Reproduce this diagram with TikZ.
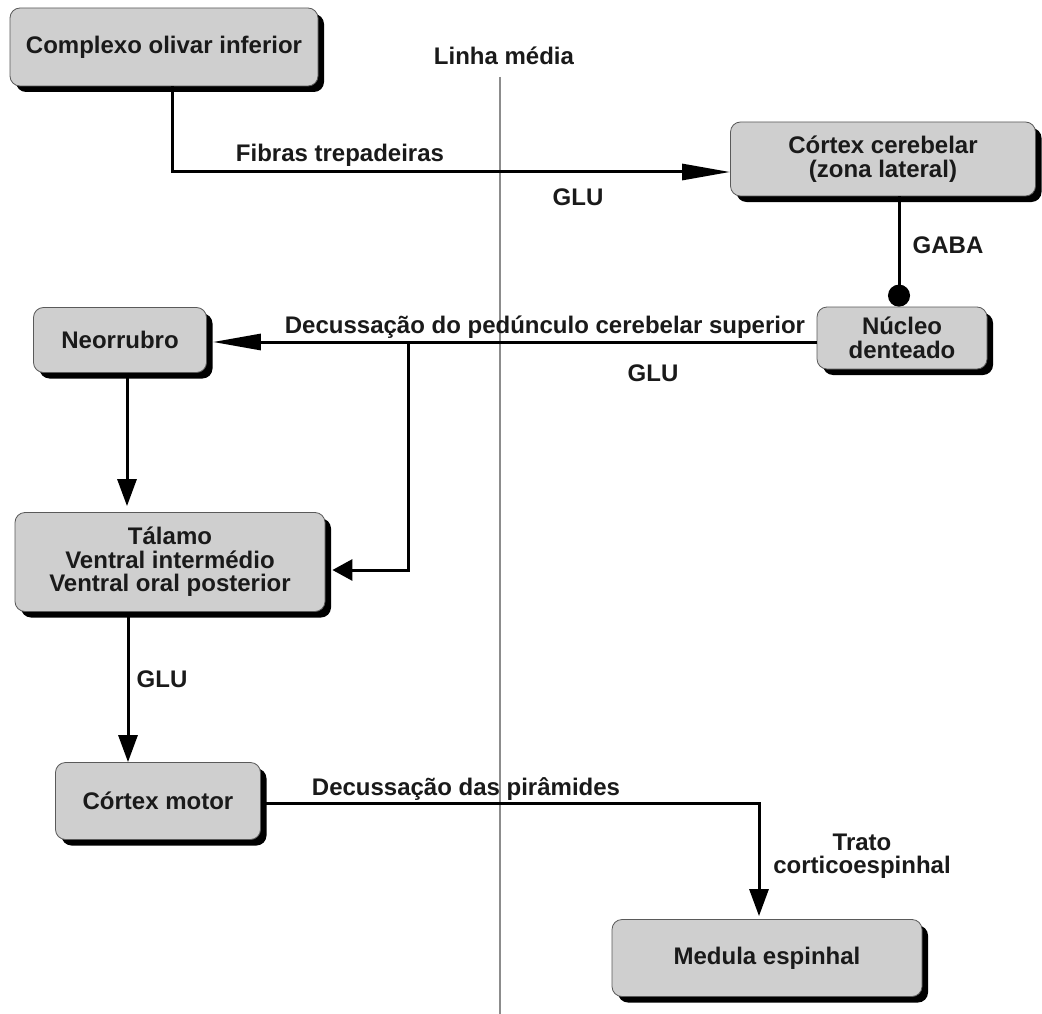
\documentclass[tikz,border=0pt]{standalone}
\usepackage{fontspec}
\setmainfont{Liberation Sans}
\usetikzlibrary{arrows.meta,shadows}
\definecolor{boxfill}{HTML}{CFCFCF}
\definecolor{boxedge}{HTML}{5A5A5A}
\definecolor{inkc}{HTML}{1A1A1A}
\definecolor{midc}{HTML}{8C8C8C}

\begin{document}
\begin{tikzpicture}[x=1pt,y=-1pt,
  every node/.style={font=\fontsize{24}{23.5}\selectfont\bfseries, text=inkc},
  box/.style={draw=boxedge, line width=0.8pt, fill=boxfill, rounded corners=10pt,
    align=center, inner sep=0pt,
    drop shadow={shadow xshift=6pt, shadow yshift=-6pt, opacity=1, fill=black}},
  lbl/.style={inner sep=0pt, anchor=base},
  conn/.style={draw=black, line width=3pt},
  longtip/.style={-{Triangle[length=48pt,width=16pt]}},
  downtip/.style={-{Triangle[length=27pt,width=19pt]}},
  sidetip/.style={-{Triangle[length=20pt,width=21pt]}},
  dottip/.style={-{Circle[length=22pt,width=22pt]}},
  midline/.style={draw=midc, line width=1.6pt}
]
\fill[white] (0,0) rectangle (1042,1014);
\useasboundingbox (0,0) rectangle (1042,1014);

% median line of the brainstem
\coordinate (mtop) at (500,77);
\coordinate (mbot) at (500,1014);
\draw[midline] (mtop) -- (mbot);
\node[lbl] (tmid) at (504,65) {Linha média};

% nuclei and structures
\node[box, minimum width=308pt, minimum height=78pt] (olivar) at (164,47) {Complexo olivar inferior};
\node[box, minimum width=305pt, minimum height=74pt] (cortex) at (883,159) {Córtex cerebelar\\(zona lateral)};
\node[box, minimum width=170pt, minimum height=62pt] (nucleo) at (902,338) {Núcleo\\denteado};
\node[box, minimum width=173pt, minimum height=65pt] (neo) at (120,340) {Neorrubro};
\node[box, minimum width=310pt, minimum height=99pt] (talamo) at (170,562) {Tálamo\\Ventral intermédio\\Ventral oral posterior};
\node[box, minimum width=205pt, minimum height=77pt] (motor) at (158,801) {Córtex motor};
\node[box, minimum width=310pt, minimum height=77pt] (medula) at (767,958) {Medula espinhal};

% climbing fibres
\coordinate (k1) at (172,172);
\draw[conn, longtip] (olivar.south -| k1) -- (k1) -- (cortex.west |- k1);
\node[lbl] (tfib) at (340,162) {Fibras trepadeiras};
\node[lbl] (tglu1) at (578,205) {GLU};

% Purkinje output (inhibitory)
\coordinate (g1) at (899,250);
\draw[conn, dottip] (cortex.south -| g1) -- (nucleo.north -| g1);
\node[lbl] (tgaba) at (948,253) {GABA};

% superior cerebellar peduncle decussation
\coordinate (d1) at (408,342);
\coordinate (d2) at (408,570);
\draw[conn, longtip, shorten >=6pt] (nucleo.west |- d1) -- (neo.east |- d1);
\draw[conn, sidetip, shorten >=7pt] (d1) -- (d2) -- (talamo.east |- d2);
\node[lbl] (tdec) at (545,333) {Decussação do pedúnculo cerebelar superior};
\node[lbl] (tglu2) at (653,381) {GLU};

% neorubrum to thalamus
\coordinate (n1) at (127,0);
\draw[conn, downtip, shorten >=6pt] (neo.south -| n1) -- (talamo.north -| n1);

% thalamus to motor cortex
\coordinate (t1) at (128,0);
\draw[conn, downtip] (talamo.south -| t1) -- (motor.north -| t1);
\node[lbl] (tglu3) at (162,687) {GLU};

% pyramidal decussation, corticospinal tract
\coordinate (p1) at (759,803);
\draw[conn, downtip, shorten >=3pt] (motor.east |- p1) -- (p1) -- (medula.north -| p1);
\node[lbl] (tpir) at (466,795) {Decussação das pirâmides};
\node[align=center, inner sep=0pt] (ttrato) at (862,856) {Trato\\corticoespinhal};
\end{tikzpicture}
\end{document}
